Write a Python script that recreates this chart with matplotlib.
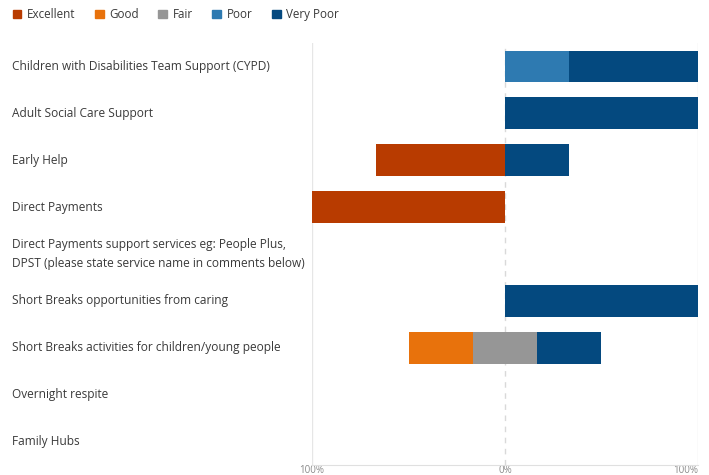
import numpy as np
import matplotlib.pyplot as plt
from matplotlib.patches import Patch
from matplotlib.transforms import blended_transform_factory

# ---- data (percent of responses) ----
services = [
    "Children with Disabilities Team Support (CYPD)",
    "Adult Social Care Support",
    "Early Help",
    "Direct Payments",
    "Direct Payments support services eg: People Plus,\nDPST (please state service name in comments below)",
    "Short Breaks opportunities from caring",
    "Short Breaks activities for children/young people",
    "Overnight respite",
    "Family Hubs",
]
ratings = ["Excellent", "Good", "Fair", "Poor", "Very Poor"]
excellent = [0, 0, 66.7, 100, 0, 0, 0, 0, 0]
good = [0, 0, 0, 0, 0, 0, 33.3, 0, 0]
fair = [0, 0, 0, 0, 0, 0, 33.3, 0, 0]
poor = [33.3, 0, 0, 0, 0, 0, 0, 0, 0]
very_poor = [66.7, 100, 33.3, 0, 0, 100, 33.3, 0, 0]
colors = ["#b83b00", "#e8720c", "#969696", "#2e7ab1", "#04497f"]

series = np.array([excellent, good, fair, poor, very_poor])

# ---- figure ----
plt.rcParams.update({'font.family': ['Open Sans', 'DejaVu Sans']})
fig = plt.figure(figsize=(7.09, 4.75), dpi=100)
ax = fig.add_axes([312 / 709, 1 - 465 / 475, 386 / 709, 422 / 475])

y = np.arange(len(services))
start = -(series[0] + series[1] + series[2] / 2)
left = start.copy()
for vals, col in zip(series, colors):
    ax.barh(y, vals, left=left, height=0.68, color=col, zorder=3)
    left = left + vals

ax.set_xlim(-100, 100)
ax.set_ylim(len(services) - 0.5, -0.5)

# grid lines
ax.axvline(-100, color="#e6e6e6", lw=1, zorder=1)
ax.axvline(100, color="#e6e6e6", lw=1, zorder=1)
ax.axvline(0, color="#d9d9d9", lw=1, ls=(0, (4, 4)), zorder=1)

for s in ["top", "right", "left"]:
    ax.spines[s].set_visible(False)
ax.spines["bottom"].set_color("#e0e0e0")

ax.set_xticks([-100, 0, 100])
ax.set_xticklabels(["100%", "0%", "100%"], color="#8a8a8a", fontsize=7)
ax.tick_params(axis="x", length=0, pad=0)
ax.get_xticklabels()[-1].set_ha("right")
ax.set_yticks([])

# category labels, left-aligned at the figure edge
trans = blended_transform_factory(fig.transFigure, ax.transData)
for yi, name in zip(y, services):
    ax.text(12 / 709, yi, name, transform=trans, ha="left", va="center",
            fontsize=8.6, color="#3a3a3a", linespacing=1.55)

# legend
handles = [Patch(color=c, label=r) for r, c in zip(ratings, colors)]
fig.legend(handles=handles, loc="upper left", bbox_to_anchor=(0.003, 1.005),
           ncol=5, frameon=False, fontsize=8.4, handlelength=0.75, handleheight=0.75,
           handletextpad=0.45, columnspacing=1.7, labelcolor="#3a3a3a")

plt.savefig("out.png", dpi=100)
